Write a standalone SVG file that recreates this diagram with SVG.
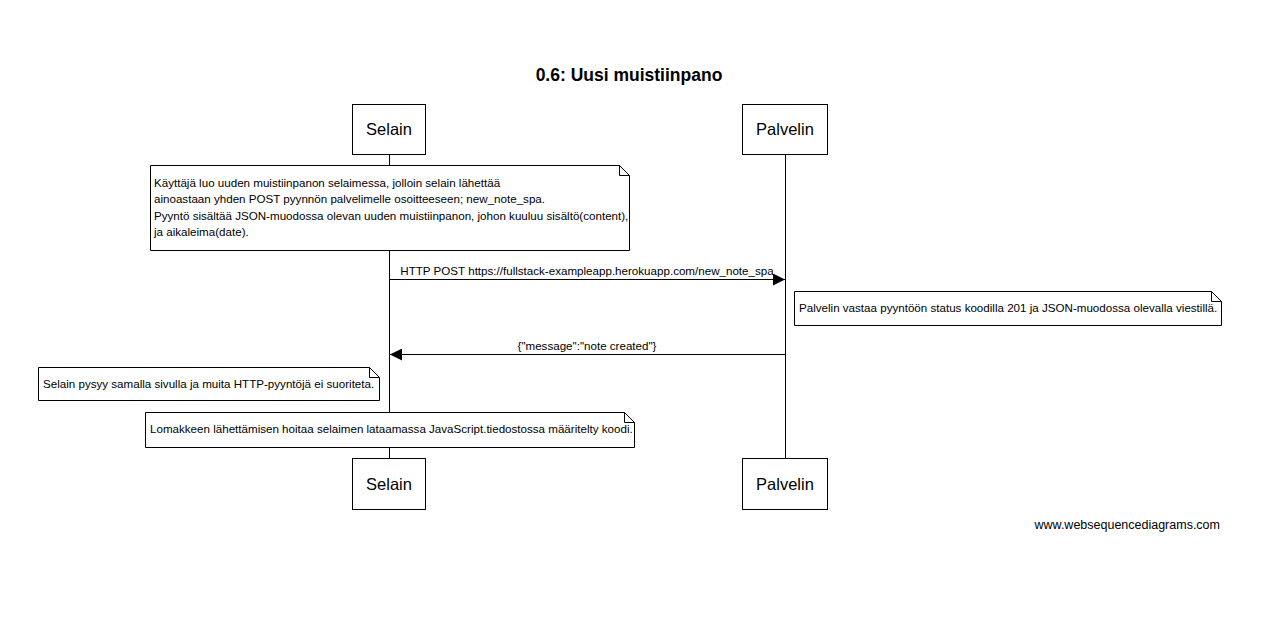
<svg xmlns="http://www.w3.org/2000/svg" width="1269" height="634" viewBox="0 0 1269 634">
<style>
text{font-family:"Liberation Sans",Arial,sans-serif;fill:#000}
.actor rect{fill:#fff;stroke:#000;stroke-width:1}
.actor text{font-size:16.5px;text-anchor:middle}
.life{stroke:#000;stroke-width:1}
.note path{fill:#fff;stroke:#000;stroke-width:1}
.note text{font-size:11.6px}
.msg line{stroke:#000;stroke-width:1}
.msg text{font-size:11.6px;text-anchor:middle}
</style>
<defs>
<marker id="ah" viewBox="0 0 12 12" refX="12" refY="6" markerWidth="12" markerHeight="12" markerUnits="userSpaceOnUse" orient="auto">
<path d="M0,0 L12,6 L0,12 z" fill="#000"/>
</marker>
</defs>
<rect width="1269" height="634" fill="#fff"/>
<text x="629" y="81" font-size="17.5" font-weight="bold" text-anchor="middle">0.6: Uusi muistiinpano</text>
<g id="lifelines">
<line class="life" x1="389.5" y1="154" x2="389.5" y2="459"/>
<line class="life" x1="785.5" y1="154" x2="785.5" y2="459"/>
</g>
<g id="selain-top" class="actor"><rect x="352.5" y="104.5" width="73" height="50"/><text x="389" y="135">Selain</text></g>
<g id="palvelin-top" class="actor"><rect x="742.5" y="104.5" width="85" height="50"/><text x="785" y="135">Palvelin</text></g>
<g id="selain-bottom" class="actor"><rect x="352.5" y="458.5" width="73" height="51"/><text x="389" y="490">Selain</text></g>
<g id="palvelin-bottom" class="actor"><rect x="742.5" y="458.5" width="85" height="51"/><text x="785" y="490">Palvelin</text></g>
<g id="note1" class="note">
<path d="M150.5,165.5 H619.5 L629.5,175.5 V250.5 H150.5 Z M619.5,165.5 V175.5 H629.5"/>
<text x="154" y="187">Käyttäjä luo uuden muistiinpanon selaimessa, jolloin selain lähettää</text>
<text x="154" y="203">ainoastaan yhden POST pyynnön palvelimelle osoitteeseen; new_note_spa.</text>
<text x="154" y="220">Pyyntö sisältää JSON-muodossa olevan uuden muistiinpanon, johon kuuluu sisältö(content),</text>
<text x="154" y="236">ja aikaleima(date).</text>
</g>
<g id="connectors">
<g class="msg" id="msg1">
<line x1="389.5" y1="279.5" x2="785" y2="279.5" marker-end="url(#ah)"/>
<text x="587" y="275">HTTP POST https://fullstack-exampleapp.herokuapp.com/new_note_spa</text>
</g>
<g class="msg" id="msg2">
<line x1="785.5" y1="354.5" x2="390" y2="354.5" marker-end="url(#ah)"/>
<text x="587" y="350">{"message":"note created"}</text>
</g>
</g>
<g id="note2" class="note">
<path d="M794.5,291.5 H1211.5 L1221.5,301.5 V325.5 H794.5 Z M1211.5,291.5 V301.5 H1221.5"/>
<text x="799" y="312">Palvelin vastaa pyyntöön status koodilla 201 ja JSON-muodossa olevalla viestillä.</text>
</g>
<g id="note3" class="note">
<path d="M38.5,367.5 H369.5 L379.5,377.5 V400.5 H38.5 Z M369.5,367.5 V377.5 H379.5"/>
<text x="43" y="388">Selain pysyy samalla sivulla ja muita HTTP-pyyntöjä ei suoriteta.</text>
</g>
<g id="note4" class="note">
<path d="M145.5,412.5 H624.5 L634.5,422.5 V447.5 H145.5 Z M624.5,412.5 V422.5 H634.5"/>
<text x="150" y="433">Lomakkeen lähettämisen hoitaa selaimen lataamassa JavaScript.tiedostossa määritelty koodi.</text>
</g>
<text x="1220" y="529" font-size="12.5" text-anchor="end">www.websequencediagrams.com</text>
</svg>
